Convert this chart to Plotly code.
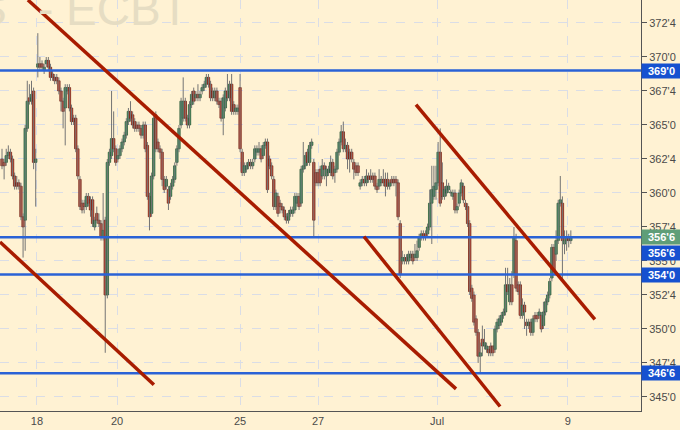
import plotly.graph_objects as go

# ---- data (prices in cents/bu, hourly bars) ----
opens = [362.5,362.25,362.25,362.75,363.0,362.5,361.25,360.75,360.75,360.5,358.25,358.0,364.75,367.0,366.75,367.5,362.25,
 369.25,369.5,369.5,369.0,369.5,369.75,369.25,368.75,368.5,368.5,368.25,367.5,366.75,366.25,367.5,367.75,366.25,365.5,365.5,
 363.25,361.0,359.25,359.25,359.0,359.75,359.5,359.5,357.5,358.5,358.0,357.75,356.75,358.0,352.5,362.25,362.75,364.0,363.25,
 362.5,362.75,363.25,363.75,364.25,365.25,366.0,365.75,365.25,365.0,365.0,364.75,364.25,365.0,363.5,359.75,358.5,361.25,365.75,
 363.75,363.25,363.0,361.0,360.5,360.25,359.75,360.5,361.0,362.25,363.25,365.0,365.5,366.75,365.5,365.0,366.5,367.5,367.0,
 367.25,367.0,367.5,367.75,368.0,368.5,368.0,367.5,367.0,367.5,366.75,366.75,365.5,366.25,367.5,367.0,368.0,366.5,366.0,366.0,
 367.75,363.0,361.5,361.75,362.0,362.25,362.0,362.5,363.0,363.0,363.25,362.75,363.5,363.75,362.5,362.0,361.0,359.0,359.75,
 359.25,359.0,358.75,358.25,358.0,358.5,358.5,358.75,359.25,359.75,359.25,361.75,362.0,363.0,362.25,363.5,362.25,361.5,361.5,
 361.75,361.25,362.0,361.25,361.5,361.5,362.25,361.5,361.75,363.0,363.75,364.5,363.25,363.5,363.0,363.0,362.25,362.0,362.0,
 360.5,360.75,361.0,360.75,361.25,361.25,361.25,361.25,360.5,360.5,360.75,361.0,361.0,361.0,360.5,361.0,361.0,361.0,360.75,
 357.75,355.0,355.0,355.25,355.0,355.25,355.5,355.25,355.25,356.0,356.75,357.0,357.0,357.0,357.5,359.25,359.75,360.25,360.75,
 363.0,360.75,359.75,360.0,360.25,360.0,359.75,360.0,358.75,359.25,360.0,360.5,359.25,359.0,357.75,353.0,352.5,350.75,349.75,
 348.0,349.25,348.75,348.5,348.5,348.75,348.75,348.5,350.0,350.25,350.5,351.0,351.25,353.25,352.0,353.25,354.0,356.5,353.25,
 353.25,351.0,351.75,350.5,350.25,350.5,349.75,351.0,351.0,351.0,351.0,350.25,351.25,352.0,352.5,353.75,356.0,355.5,356.5,
 359.25,359.25,356.25,356.5,356.75,356.5]
highs = [363.25,362.5,363.25,363.5,363.25,362.75,361.5,361.25,361.0,360.75,358.5,365.0,368.25,368.0,368.25,367.75,363.25,
 371.75,370.0,369.75,369.5,370.0,370.0,369.5,369.0,368.75,368.75,368.5,367.75,367.0,368.0,368.0,368.0,366.5,365.75,365.75,
 363.5,361.25,359.5,359.5,360.0,360.0,359.75,359.75,358.25,359.0,358.5,358.0,360.0,358.25,362.5,363.25,367.5,366.0,363.5,
 363.25,363.5,364.0,364.5,365.5,366.25,366.75,366.0,365.5,365.25,365.25,365.0,365.25,365.25,363.75,360.0,361.5,365.75,366.0,
 364.0,363.5,363.25,361.25,361.25,360.5,360.75,361.25,362.25,363.5,365.0,367.0,368.5,367.0,365.75,366.75,367.5,367.75,367.5,
 368.0,367.5,368.0,368.25,368.75,368.75,368.25,367.75,367.75,367.75,367.0,367.0,367.25,367.75,368.75,368.25,368.75,366.75,
 366.5,366.5,368.75,363.25,362.25,362.25,362.5,362.5,362.5,363.5,363.5,363.75,363.5,363.75,364.0,364.0,362.75,362.25,361.25,
 360.25,360.0,359.5,359.25,359.0,358.5,358.75,359.0,359.0,360.0,360.0,360.0,362.0,363.75,363.0,363.25,363.75,364.0,362.5,
 361.75,361.75,362.0,362.5,362.25,362.0,362.0,362.75,362.5,362.0,363.25,364.0,365.0,365.25,364.0,363.75,363.25,363.25,362.5,
 362.25,362.25,361.0,361.25,361.25,361.75,361.5,361.75,361.5,361.5,360.75,361.75,361.25,361.75,361.5,361.5,361.0,361.25,
 361.25,361.25,361.0,358.0,355.75,355.5,355.5,355.75,355.75,355.75,356.25,356.5,357.0,357.25,357.25,357.25,357.75,360.25,
 362.0,362.0,362.0,363.75,364.75,362.25,360.5,361.0,360.75,360.25,360.25,360.25,359.25,360.25,361.0,360.75,359.5,359.25,
 358.0,353.25,352.75,351.0,350.0,349.0,350.25,350.0,349.0,348.75,349.0,348.75,350.25,350.75,351.0,351.25,351.5,354.5,354.5,
 353.75,354.25,357.5,357.0,353.5,353.5,352.25,352.0,350.75,350.75,350.75,351.0,351.25,351.25,351.5,351.25,352.0,352.25,
 352.75,353.75,356.25,356.25,357.25,359.5,361.25,359.75,357.25,357.25,357.0,357.25]
lows = [361.75,361.0,362.0,362.5,362.25,361.0,360.25,360.25,360.25,358.0,355.25,355.75,364.5,366.5,366.5,361.75,359.0,
 368.5,369.0,369.0,368.75,369.25,369.0,368.25,368.25,368.0,368.0,367.25,366.0,364.75,363.5,367.25,366.0,365.0,365.0,363.0,
 361.0,358.75,358.5,358.5,358.75,359.0,358.25,357.5,357.25,357.75,357.5,356.5,356.5,348.25,352.25,362.0,362.5,363.0,362.0,
 362.25,362.5,363.0,363.5,364.0,365.0,365.25,364.75,364.5,364.5,364.5,364.0,364.0,363.0,359.5,357.25,358.25,361.0,363.0,
 363.0,362.5,360.5,360.0,360.25,358.75,359.5,360.25,360.75,362.0,363.0,364.75,365.25,365.25,364.75,364.75,366.25,366.5,
 366.75,366.75,366.75,367.25,367.5,367.75,367.75,366.75,366.75,366.75,366.5,366.25,365.25,364.25,366.0,366.75,366.75,365.75,
 365.75,365.75,365.75,363.0,361.25,361.25,361.5,361.75,361.75,361.75,362.25,362.75,362.75,362.25,362.5,363.25,360.0,361.75,
 361.0,358.75,358.75,358.25,358.5,358.5,358.0,357.75,357.75,358.25,358.25,358.5,359.0,358.75,359.0,361.5,361.75,362.0,362.0,
 363.25,356.75,360.5,360.5,360.5,361.0,361.0,360.5,361.25,361.25,361.0,360.75,361.5,362.75,363.5,363.0,363.0,361.75,361.5,
 362.25,361.0,361.25,361.25,360.25,360.5,360.5,360.5,360.75,360.75,360.75,360.25,360.0,360.25,360.5,360.5,359.75,360.25,
 360.25,360.5,360.5,359.75,358.0,353.75,354.75,354.75,354.75,354.75,355.0,354.75,355.0,355.0,355.75,356.5,356.5,356.5,
 356.75,357.25,356.25,359.5,359.5,360.5,359.0,359.5,359.5,359.75,360.0,359.75,359.5,358.5,358.5,359.0,359.75,359.25,358.75,
 357.5,352.5,352.0,350.25,349.5,347.5,346.75,348.0,348.5,348.25,348.0,348.0,348.0,348.25,349.75,350.0,350.25,350.75,351.0,
 352.5,351.75,351.75,353.75,352.75,352.5,350.75,350.75,350.0,349.5,350.0,349.5,349.5,350.5,350.5,350.75,349.75,350.0,351.0,
 351.75,352.25,353.5,354.0,355.0,356.25,359.0,353.5,355.5,355.75,356.0,356.25]
closes = [362.0,362.0,362.75,363.0,362.5,361.25,360.5,360.5,360.5,358.25,357.5,364.75,366.75,366.75,367.25,362.25,362.5,
 369.5,369.25,369.25,369.25,369.75,369.25,368.5,368.5,368.25,368.25,367.5,366.75,366.0,367.75,367.75,366.25,365.25,365.25,
 363.25,361.25,359.0,358.75,359.0,359.75,359.25,358.75,357.75,358.0,358.0,357.75,356.75,357.25,352.5,362.25,363.0,364.0,
 363.25,362.25,362.75,363.25,363.75,364.25,365.25,366.0,365.5,365.0,364.75,364.75,364.75,364.25,365.0,363.25,359.75,358.25,
 361.25,365.5,363.25,363.25,363.0,361.0,360.25,361.0,359.25,360.5,361.0,362.0,363.25,364.75,366.75,366.75,365.5,365.0,366.5,
 367.25,366.75,367.25,367.0,367.25,367.75,368.0,368.5,368.0,367.0,367.0,367.5,366.75,366.5,365.5,367.0,367.5,367.0,368.0,
 366.0,366.0,366.25,366.25,363.25,361.5,362.0,362.0,362.25,362.0,362.25,363.25,363.25,363.25,362.5,363.5,363.75,360.25,
 362.0,361.25,359.0,360.0,358.5,359.0,358.75,358.25,358.0,358.5,358.75,358.75,359.75,359.75,359.0,361.75,362.0,362.75,
 362.25,363.5,363.75,358.0,360.75,360.75,360.75,362.0,361.75,361.75,361.75,362.25,361.25,361.75,363.0,363.75,364.5,363.25,
 363.5,362.5,362.5,362.5,361.75,361.5,361.5,360.75,361.0,360.75,361.25,361.0,361.0,361.0,360.5,360.25,361.0,361.0,360.75,
 360.5,360.5,360.75,360.75,360.75,360.75,358.25,354.0,355.25,355.25,355.0,355.5,355.5,355.0,355.5,355.75,356.75,357.0,
 356.75,356.75,357.5,359.25,360.25,360.5,360.75,363.0,359.25,359.75,360.25,360.5,360.5,360.0,360.0,358.75,359.0,360.0,360.75,
 359.5,359.0,357.75,352.75,352.25,350.5,349.75,348.0,348.25,348.75,349.0,348.75,348.25,348.25,348.25,350.0,350.5,350.75,
 351.0,351.25,353.25,352.75,353.25,352.0,356.75,353.0,352.75,351.0,351.75,351.25,350.25,350.5,349.75,350.75,350.75,350.75,
 351.25,350.0,351.25,352.0,352.5,353.5,356.0,354.25,356.5,359.25,359.5,356.5,356.5,356.75,356.5,356.75]

x_tick_pos = [16.6, 54.6, 113.0, 150.0, 206.5, 268.6]
x_tick_text = ["18", "20", "25", "27", "Jul", "9"]

y_tick_vals = [345.0, 347.5, 350.0, 352.5, 355.0, 357.5, 360.0, 362.5, 365.0, 367.5, 370.0, 372.5]
y_tick_text = ["345'0", "347'4", "350'0", "352'4", "355'0", "357'4", "360'0", "362'4", "365'0", "367'4", "370'0", "372'4"]

level_prices = [369.0, 356.75, 354.0, 346.75]
level_texts = ["369'0", "356'6", "354'0", "346'6"]
last_price = 356.75
last_text = "356'6"

# trend lines: (bar index start, price start, bar index end, price end)
trend_x0 = [12.3, -0.95, 171.8, 196.5]
trend_y0 = [374.19, 356.4, 356.8, 366.5]
trend_x1 = [215.5, 72.1, 236.4, 281.4]
trend_y1 = [345.6, 345.9, 344.3, 350.7]

# ---- build ----
n = len(closes)
idx = list(range(n))
bg = "#FFF2D3"
up_fill, dn_fill = "#3D9466", "#DA4129"
up_line, dn_line = "#24502F", "#631A0E"

bases, heights, fills, lines = [], [], [], []
for o, c in zip(opens, closes):
    bases.append(min(o, c))
    heights.append(max(abs(c - o), 0.06))
    up = c >= o
    fills.append(up_fill if up else dn_fill)
    lines.append(up_line if up else dn_line)

wx, wy = [], []
for i, h, l in zip(idx, highs, lows):
    wx += [i, i, None]
    wy += [l, h, None]

fig = go.Figure()
fig.add_trace(go.Scatter(x=wx, y=wy, mode="lines", line=dict(color="#747474", width=1),
                         hoverinfo="skip", showlegend=False))
fig.add_trace(go.Bar(x=idx, y=heights, base=bases, width=1.15,
                     marker=dict(color=fills, line=dict(color=lines, width=0.7)),
                     showlegend=False))

shapes = []
for p in level_prices:
    shapes.append(dict(type="line", xref="paper", x0=0, x1=1, yref="y", y0=p, y1=p,
                       line=dict(color="#2A62D6", width=2.5)))
for a, b, c, d in zip(trend_x0, trend_y0, trend_x1, trend_y1):
    shapes.append(dict(type="line", xref="x", yref="y", x0=a, y0=b, x1=c, y1=d,
                       line=dict(color="#A81C00", width=3.5)))

wm_font = dict(family="Liberation Sans, Arial", size=46, color="#E6DDC3")
annotations = [
    dict(text="S", xref="paper", yref="paper", x=9/641, y=0.91,
         xanchor="right", yanchor="bottom", showarrow=False, font=wm_font),
    dict(text="- ECBT", xref="paper", yref="paper", x=191/641, y=0.91,
         xanchor="right", yanchor="bottom", showarrow=False, font=wm_font),
]
# last price label (green)
annotations.append(dict(text="<b>%s</b>" % last_text, xref="paper", yref="y", x=1, y=last_price,
                        xanchor="left", yanchor="middle", showarrow=False, width=37, height=12,
                        bgcolor="#5F9E78", borderpad=1,
                        font=dict(family="Liberation Sans, Arial", size=11, color="white")))
for p, t in zip(level_prices, level_texts):
    shift = -16 if p == last_price else 0
    annotations.append(dict(text="<b>%s</b>" % t, xref="paper", yref="y", x=1, y=p, yshift=shift,
                            xanchor="left", yanchor="middle", showarrow=False, width=37, height=12,
                            bgcolor="#1651D0", borderpad=1,
                            font=dict(family="Liberation Sans, Arial", size=11, color="white")))

fig.update_layout(
    width=680, height=430,
    margin=dict(l=0, r=39, t=0, b=19),
    paper_bgcolor=bg, plot_bgcolor=bg,
    shapes=shapes, annotations=annotations,
    showlegend=False,
    font=dict(family="Liberation Sans, Arial", size=11, color="#4A4A4A"),
    xaxis=dict(range=[-0.95, 303.3], tickvals=x_tick_pos, ticktext=x_tick_text,
               showgrid=True, gridcolor="#DADDE6", griddash="dash", gridwidth=1,
               zeroline=False, showline=True, linecolor="#555555", linewidth=1,
               ticks="", tickfont=dict(size=11, color="#4A4A4A")),
    yaxis=dict(range=[343.97, 374.19], side="right", tickvals=y_tick_vals, ticktext=y_tick_text,
               showgrid=True, gridcolor="#DADDE6", griddash="dash", gridwidth=1,
               zeroline=False, showline=True, linecolor="#555555", linewidth=1,
               ticks="outside", ticklen=5, tickcolor="#555555",
               tickfont=dict(size=11, color="#4A4A4A")),
)

fig.write_html("out.html", config={"displayModeBar": False},
               post_script="document.body.style.margin='0';document.body.style.overflow='hidden';")
